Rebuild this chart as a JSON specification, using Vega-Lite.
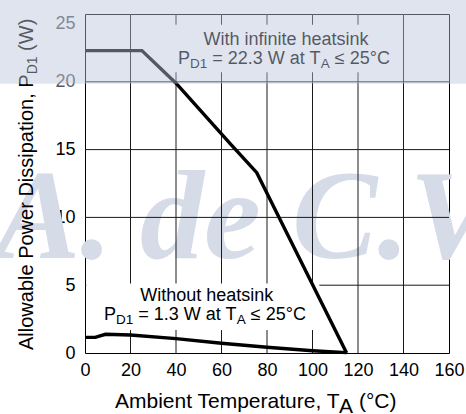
{
  "$schema": "https://vega.github.io/schema/vega-lite/v6.json",
  "width": 364,
  "height": 339,
  "autosize": {"type": "none"},
  "padding": {"left": 85, "top": 14, "right": 17, "bottom": 61},
  "background": "white",
  "config": {
    "view": {"stroke": "#000", "strokeWidth": 1, "fill": "white"},
    "font": "Liberation Sans",
    "axis": {"grid": false, "domain": false, "ticks": false, "title": null, "labelFont": "Liberation Sans", "labelFontSize": 18, "labelColor": "#000", "zindex": 1}
  },
  "datasets": {
    "power": [
      {"series": "infinite", "T": 0, "P": 22.3},
      {"series": "infinite", "T": 25, "P": 22.3},
      {"series": "infinite", "T": 40, "P": 19.9},
      {"series": "infinite", "T": 64, "P": 15.4},
      {"series": "infinite", "T": 75.5, "P": 13.3},
      {"series": "infinite", "T": 115, "P": 0},
      {"series": "none", "T": 0, "P": 1.15},
      {"series": "none", "T": 4.5, "P": 1.15},
      {"series": "none", "T": 9, "P": 1.38},
      {"series": "none", "T": 20, "P": 1.33},
      {"series": "none", "T": 40, "P": 1.06},
      {"series": "none", "T": 60, "P": 0.72},
      {"series": "none", "T": 80, "P": 0.42},
      {"series": "none", "T": 100, "P": 0.17},
      {"series": "none", "T": 115, "P": 0.03}
    ],
    "gridT": [{"T": 20}, {"T": 40}, {"T": 60}, {"T": 80}, {"T": 100}, {"T": 120}, {"T": 140}],
    "gridP": [{"P": 5}, {"P": 10}, {"P": 15}, {"P": 20}],
    "boxes": [
      {"T": 30, "T2": 136, "P": 20.7, "P2": 24.2},
      {"T": 0.6, "T2": 103, "P": 1.7, "P2": 5.12}
    ],
    "band": [{"T": -40, "T2": 175, "P": 19.85, "P2": 28}],
    "watermark": [
      {"T": -39.6, "P": 7.0, "text": "A."},
      {"T": 24.2, "P": 7.0, "text": "de"},
      {"T": 91, "P": 7.0, "text": "C.V"}
    ],
    "annMain": [
      {"T": 52.09, "P": 22.71, "text": "With infinite heatsink"},
      {"T": 40.88, "P": 21.31, "text": "P"},
      {"T": 55.94, "P": 21.31, "text": "= 22.3 W at T"},
      {"T": 109.83, "P": 21.31, "text": "≤ 25°C"},
      {"T": 24.26, "P": 3.83, "text": "Without heatsink"},
      {"T": 8.35, "P": 2.43, "text": "P"},
      {"T": 23.41, "P": 2.43, "text": "= 1.3 W at T"},
      {"T": 72.9, "P": 2.43, "text": "≤ 25°C"}
    ],
    "annSub": [
      {"T": 46.15, "P": 21.02, "text": "D1"},
      {"T": 103.67, "P": 21.02, "text": "A"},
      {"T": 13.63, "P": 2.14, "text": "D1"},
      {"T": 66.75, "P": 2.14, "text": "A"}
    ],
    "xTitle": [
      {"T": 13.19, "P": -4.06, "text": "Ambient Temperature, T"},
      {"T": 111.7, "P": -4.43, "text": "A"},
      {"T": 120.42, "P": -4.06, "text": "(°C)"}
    ],
    "yTitleMain": [
      {"T": -22.86, "P": 0.22, "text": "Allowable Power Dissipation, P"},
      {"T": -22.86, "P": 22.28, "text": "(W)"}
    ],
    "yTitleSub": [
      {"T": -21.1, "P": 20.55, "text": "D1"}
    ]
  },
  "layer": [
    {
      "data": {"name": "watermark"},
      "mark": {"type": "text", "font": "Liberation Serif", "fontWeight": "bold", "fontStyle": "italic", "fontSize": 128, "align": "left", "baseline": "alphabetic", "color": "#d6dbe8"},
      "encoding": {
        "x": {"field": "T", "type": "quantitative", "scale": {"domain": [0, 160], "nice": false, "zero": false}, "axis": {"values": [0, 20, 40, 60, 80, 100, 120, 140, 160], "labelPadding": 8, "labelFlush": false}},
        "y": {"field": "P", "type": "quantitative", "scale": {"domain": [0, 25], "nice": false, "zero": false}, "axis": {"values": [0, 5, 10, 15, 20, 25], "labelPadding": 10, "labelFlush": false, "labelBaseline": {"condition": {"test": "datum.value == 25", "value": "top"}, "value": "middle"}, "labelColor": {"condition": {"test": "datum.value >= 20", "value": "#545862"}, "value": "#000"}}},
        "text": {"field": "text"}
      }
    },
    {
      "data": {"name": "gridT"},
      "mark": {"type": "rule", "color": "#1a1a1a", "strokeWidth": 1},
      "encoding": {
        "x": {"field": "T", "type": "quantitative"},
        "y": {"datum": 0, "type": "quantitative"},
        "y2": {"datum": 25}
      }
    },
    {
      "data": {"name": "gridP"},
      "mark": {"type": "rule", "color": "#1a1a1a", "strokeWidth": 1},
      "encoding": {
        "y": {"field": "P", "type": "quantitative"},
        "x": {"datum": 0, "type": "quantitative"},
        "x2": {"datum": 160}
      }
    },
    {
      "data": {"name": "boxes"},
      "mark": {"type": "rect", "color": "white"},
      "encoding": {
        "x": {"field": "T", "type": "quantitative"},
        "x2": {"field": "T2"},
        "y": {"field": "P", "type": "quantitative"},
        "y2": {"field": "P2"}
      }
    },
    {
      "data": {"name": "power"},
      "mark": {"type": "line", "color": "#000", "strokeWidth": 3.4, "strokeJoin": "miter"},
      "encoding": {
        "x": {"field": "T", "type": "quantitative"},
        "y": {"field": "P", "type": "quantitative"},
        "detail": {"field": "series"}
      }
    },
    {
      "data": {"name": "annMain"},
      "mark": {"type": "text", "fontSize": 18, "align": "left", "baseline": "alphabetic", "color": "#000"},
      "encoding": {
        "x": {"field": "T", "type": "quantitative"},
        "y": {"field": "P", "type": "quantitative"},
        "text": {"field": "text"}
      }
    },
    {
      "data": {"name": "annSub"},
      "mark": {"type": "text", "fontSize": 13.5, "align": "left", "baseline": "alphabetic", "color": "#000"},
      "encoding": {
        "x": {"field": "T", "type": "quantitative"},
        "y": {"field": "P", "type": "quantitative"},
        "text": {"field": "text"}
      }
    },
    {
      "data": {"name": "xTitle"},
      "mark": {"type": "text", "fontSize": 21, "align": "left", "baseline": "alphabetic", "color": "#000"},
      "encoding": {
        "x": {"field": "T", "type": "quantitative"},
        "y": {"field": "P", "type": "quantitative"},
        "text": {"field": "text"}
      }
    },
    {
      "data": {"name": "yTitleMain"},
      "mark": {"type": "text", "fontSize": 20, "angle": 270, "align": "left", "baseline": "alphabetic", "color": "#000"},
      "encoding": {
        "x": {"field": "T", "type": "quantitative"},
        "y": {"field": "P", "type": "quantitative"},
        "text": {"field": "text"}
      }
    },
    {
      "data": {"name": "yTitleSub"},
      "mark": {"type": "text", "fontSize": 14, "angle": 270, "align": "left", "baseline": "alphabetic", "color": "#000"},
      "encoding": {
        "x": {"field": "T", "type": "quantitative"},
        "y": {"field": "P", "type": "quantitative"},
        "text": {"field": "text"}
      }
    },
    {
      "data": {"name": "band"},
      "mark": {"type": "rect", "color": "#bbc4da", "opacity": 0.45},
      "encoding": {
        "x": {"field": "T", "type": "quantitative"},
        "x2": {"field": "T2"},
        "y": {"field": "P", "type": "quantitative"},
        "y2": {"field": "P2"}
      }
    }
  ]
}
